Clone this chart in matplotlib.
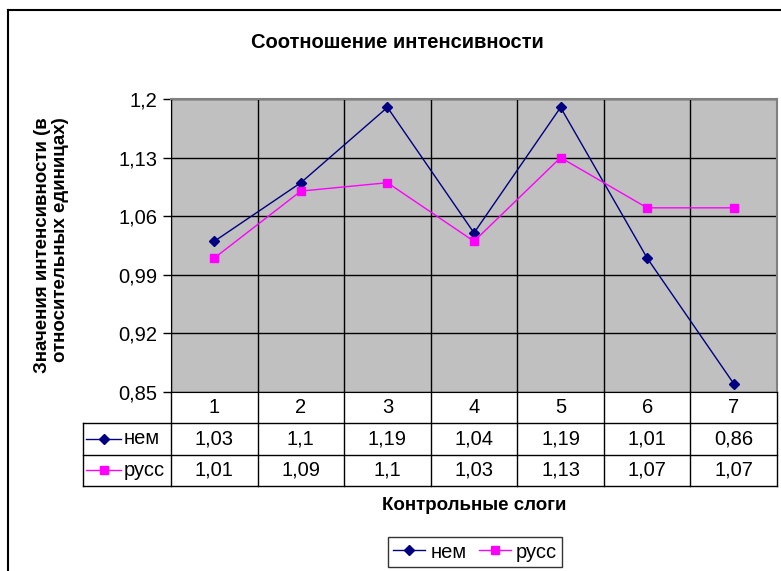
import numpy as np
import matplotlib.pyplot as plt
from matplotlib.lines import Line2D

plt.rcParams['font.family'] = ['Liberation Sans', 'DejaVu Sans']

# данные
slogi = [1, 2, 3, 4, 5, 6, 7]
nem = [1.03, 1.1, 1.19, 1.04, 1.19, 1.01, 0.86]
russ = [1.01, 1.09, 1.1, 1.03, 1.13, 1.07, 1.07]
yticks = [0.85, 0.92, 0.99, 1.06, 1.13, 1.2]
ytick_labels = ['0,85', '0,92', '0,99', '1,06', '1,13', '1,2']
nem_txt = ['1,03', '1,1', '1,19', '1,04', '1,19', '1,01', '0,86']
russ_txt = ['1,01', '1,09', '1,1', '1,03', '1,13', '1,07', '1,07']

FS = 14.5
W, H = 781, 571
fig = plt.figure(figsize=(W / 100, H / 100), dpi=100)

def box(x0, y0, x1, y1):
    return [x0 / W, 1 - y1 / H, (x1 - x0) / W, (y1 - y0) / H]

# рамка диаграммы
fig.add_artist(Line2D([8 / W, 8 / W], [0, 1 - 10 / H], color='black', lw=1.5))
fig.add_artist(Line2D([8 / W, 1], [1 - 10 / H, 1 - 10 / H], color='black', lw=1.5))

ax = fig.add_axes(box(171, 99, 777, 392))
ax.set_facecolor('#C0C0C0')
l1, = ax.plot(slogi, nem, color='#000080', marker='D', markersize=5, lw=1, label='нем')
l2, = ax.plot(slogi, russ, color='#FF00FF', marker='s', markersize=6, lw=1, label='русс')
ax.set_xlim(0.5, 7.5)
ax.set_ylim(0.85, 1.2)
ax.set_yticks(yticks)
ax.set_yticklabels(ytick_labels, fontsize=FS)
ax.set_xticks(np.arange(0.5, 8, 1))
ax.set_xticklabels([])
ax.tick_params(axis='x', length=0)
ax.tick_params(axis='y', length=6, width=1, pad=4)
ax.grid(True, color='black', lw=1)
for s in ['top', 'right']:
    ax.spines[s].set_color('#808080')
    ax.spines[s].set_linewidth(1.5)
ax.spines['left'].set_color('black')
ax.spines['bottom'].set_color('black')

# таблица данных
tx = fig.add_axes(box(171, 392, 777, 486))
tx.set_xlim(0.5, 7.5)
tx.set_ylim(0, 3)
tx.axis('off')
left = 0.5 - 88 / 86.6
kw = dict(color='black', lw=1, clip_on=False)
for x in np.arange(0.5, 8, 1):
    tx.plot([x, x], [0, 3], **kw)
tx.plot([left, left], [0, 2], **kw)
for y in [0, 1, 2]:
    tx.plot([left, 7.5], [y, y], **kw)
for i, s in enumerate(slogi):
    tx.text(s, 2.5, str(s), ha='center', va='center', fontsize=FS)
    tx.text(s, 1.5, nem_txt[i], ha='center', va='center', fontsize=FS)
    tx.text(s, 0.5, russ_txt[i], ha='center', va='center', fontsize=FS)
u = 1 / 86.6
for y, ln, name in [(1.5, l1, 'нем'), (0.5, l2, 'русс')]:
    tx.plot([left + 3 * u, left + 38 * u], [y, y], color=ln.get_color(), lw=1, clip_on=False)
    tx.plot([left + 20.5 * u], [y], color=ln.get_color(), marker=ln.get_marker(),
            markersize=ln.get_markersize(), clip_on=False)
    tx.text(left + 41 * u, y, name, ha='left', va='center', fontsize=FS)

fig.text(397 / W, 1 - 42 / H, 'Соотношение интенсивности', ha='center', va='center',
         fontsize=FS, fontweight='bold')
fig.text(51.5 / W, 1 - 245 / H, 'Значения интенсивности (в\nотносительных единицах)',
         ha='center', va='center', rotation=90, fontsize=13.5, fontweight='bold',
         linespacing=1.15, multialignment='right')
fig.text(474 / W, 1 - 505 / H, 'Контрольные слоги', ha='center', va='center',
         fontsize=13.5, fontweight='bold')

leg = fig.legend(handles=[l1, l2], loc='center', bbox_to_anchor=(475 / W, 1 - 552 / H),
                 ncol=2, fontsize=FS, frameon=True, fancybox=False, edgecolor='black',
                 handlelength=1.6, handletextpad=0.25, columnspacing=0.6,
                 borderpad=0.25, borderaxespad=0)
leg.get_frame().set_linewidth(1)

fig.savefig('out.png', dpi=100)
